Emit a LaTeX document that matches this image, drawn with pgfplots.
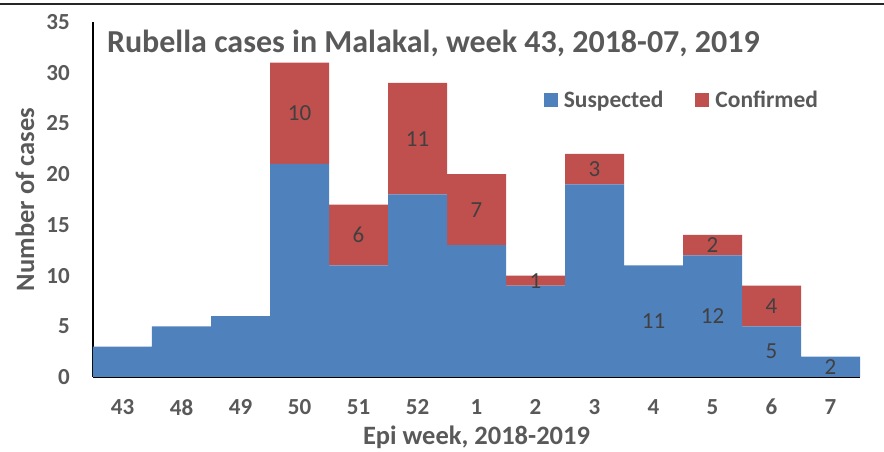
\documentclass[border=0pt]{standalone}
\usepackage{fontspec}
\setmainfont{Carlito}
\usepackage{pgfplots}
\pgfplotsset{compat=1.18}
\definecolor{susp}{HTML}{4F81BD}
\definecolor{conf}{HTML}{C0504D}
\definecolor{txt}{HTML}{595959}
\definecolor{lbl}{HTML}{404040}
\begin{document}
\begin{tikzpicture}[x=1pt,y=1pt]
\useasboundingbox (0,0) rectangle (884,452);
\draw[line width=2pt, black!85] (0,447.5) -- (884,447.5);
\begin{axis}[
  at={(93pt,75pt)}, anchor=south west,
  scale only axis, width=767pt, height=355pt,
  ybar stacked, bar width=1,
  xmin=-0.5, xmax=12.5, ymin=0, ymax=35,
  axis x line*=bottom, axis y line*=left,
  axis line style={black, line width=2pt, -},
  major tick length=0pt,
  xtick={0,...,12},
  xticklabels={43,48,49,50,51,52,1,2,3,4,5,6,7},
  ytick={0,5,...,35},
  /pgf/number format/assume math mode=true,
  ticklabel style={font=\fontsize{23}{27}\selectfont\bfseries, text=txt},
  xticklabel style={anchor=north, inner sep=0pt, yshift=-22pt},
  yticklabel style={anchor=east, inner sep=0pt, xshift=-23pt},
  xlabel={Epi week, 2018-2019},
  ylabel={Number of cases},
  label style={font=\fontsize{26.5}{30}\selectfont\bfseries, text=txt},
  xlabel style={at={(0.5,0)}, anchor=center, yshift=-60pt},
  ylabel style={at={(0,0.5)}, anchor=center, yshift=68pt},
  title={Rubella cases in Malakal, week 43, 2018-07, 2019},
  title style={at={(0.018,0.922)}, anchor=west, inner sep=0pt, font=\fontsize{32}{36}\selectfont\bfseries, text=txt},
  legend style={draw=none, fill=none, at={(0.5875,0.78)}, anchor=west, inner sep=0pt,
    font=\fontsize{23.5}{27}\selectfont\bfseries, text=txt, legend columns=2,
    /tikz/every odd column/.append style={column sep=4pt},
    /tikz/every even column/.append style={column sep=30pt}},
  legend image code/.code={\fill[#1] (0pt,-7pt) rectangle (14pt,7pt);},
  point meta=explicit symbolic,
  nodes near coords,
  every node near coord/.append style={inner sep=0pt, font=\fontsize{23}{27}\selectfont, text=lbl},
  clip=false,
]
\addplot[fill=susp, draw=none] coordinates {
 (0,3)[] (1,5)[] (2,6)[] (3,21)[] (4,11)[] (5,18)[] (6,13)[] (7,9)[] (8,19)[]
 (9,11)[11] (10,12)[12] (11,5)[5] (12,2)[2]};
\addlegendentry{Suspected}
\addplot[fill=conf, draw=none] coordinates {
 (0,0)[] (1,0)[] (2,0)[] (3,10)[10] (4,6)[6] (5,11)[11] (6,7)[7] (7,1)[1] (8,3)[3]
 (9,0)[] (10,2)[2] (11,4)[4] (12,0)[]};
\addlegendentry{Confirmed}
\end{axis}
\end{tikzpicture}
\end{document}
